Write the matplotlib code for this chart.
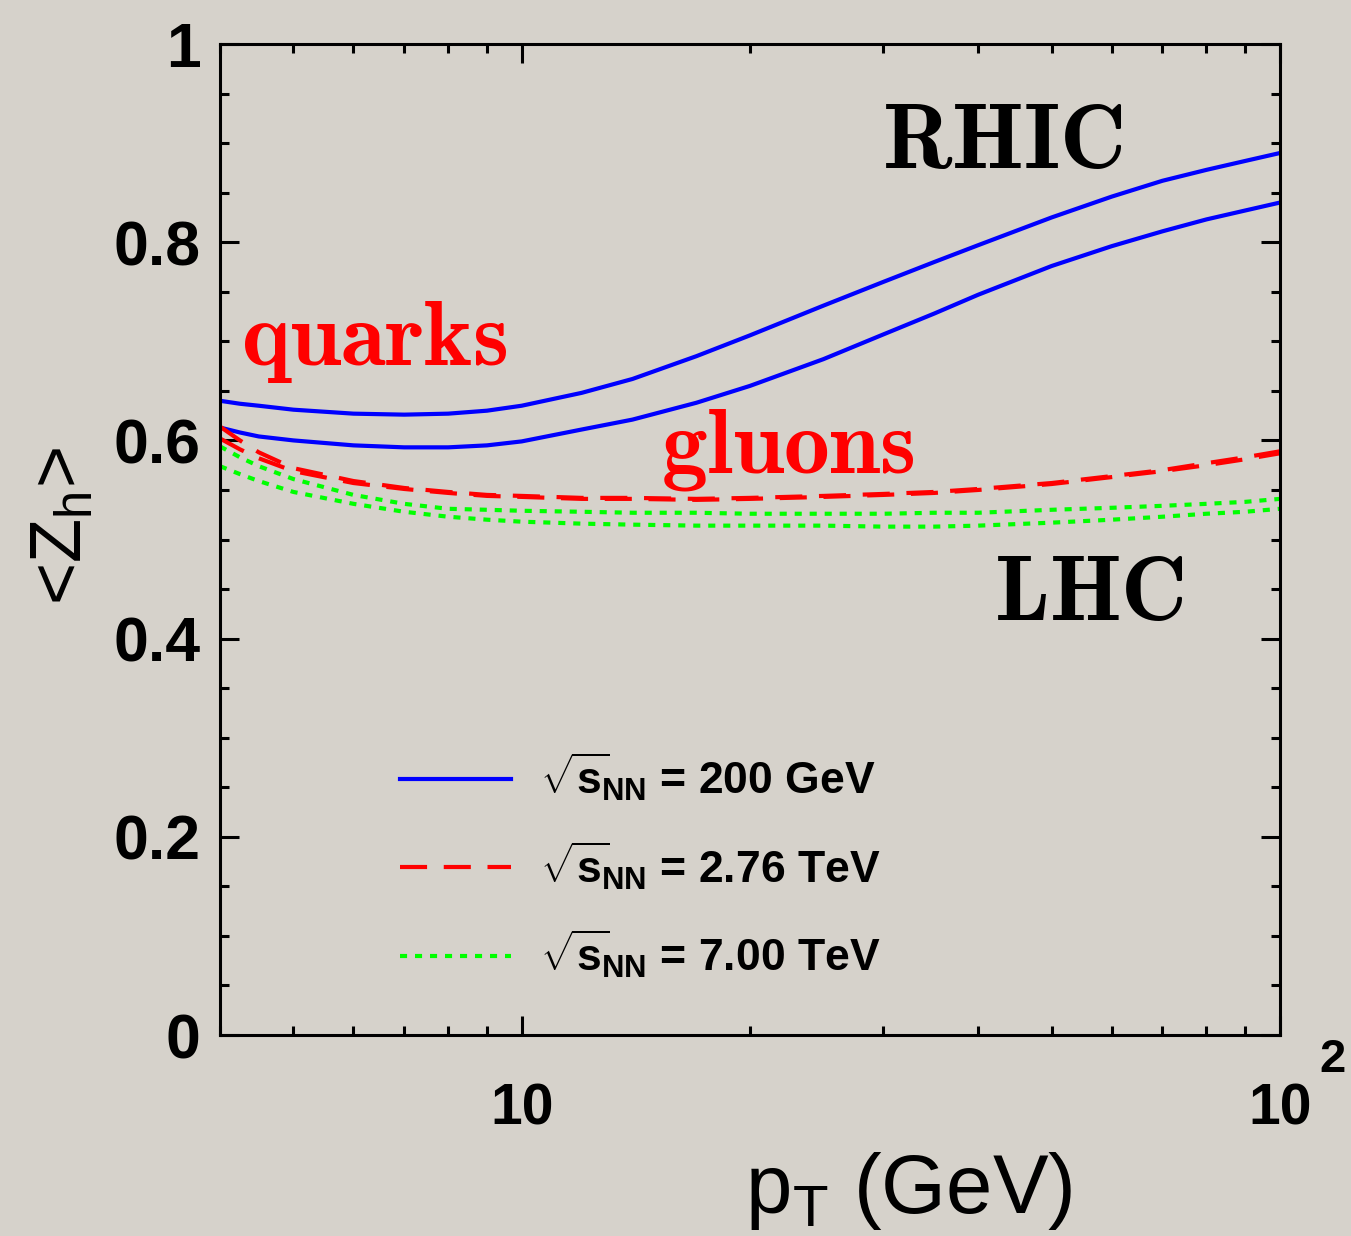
import matplotlib
matplotlib.use("Agg")
import matplotlib.pyplot as plt
from matplotlib.ticker import MultipleLocator, LogLocator, NullFormatter

# <Z_h> vs pT for quark / gluon jets at RHIC and LHC energies
pt = [4, 4.25, 4.5, 5, 6, 7, 8, 9, 10, 12, 14, 17, 20, 25, 30, 35, 40, 50, 60,
      70, 80, 90, 100]

rhic_quark = [0.640, 0.637, 0.635, 0.631, 0.627, 0.626, 0.627, 0.630, 0.635,
              0.648, 0.662, 0.685, 0.706, 0.736, 0.760, 0.780, 0.797, 0.825,
              0.846, 0.862, 0.873, 0.882, 0.890]
rhic_gluon = [0.613, 0.608, 0.604, 0.600, 0.595, 0.593, 0.593, 0.595, 0.599,
              0.611, 0.621, 0.638, 0.655, 0.682, 0.707, 0.728, 0.747, 0.776,
              0.796, 0.811, 0.823, 0.832, 0.840]
lhc276_a = [0.614, 0.600, 0.588, 0.572, 0.559, 0.552, 0.548, 0.545, 0.544,
            0.542, 0.542, 0.541, 0.542, 0.544, 0.546, 0.548, 0.551, 0.557,
            0.564, 0.570, 0.577, 0.583, 0.589]
lhc276_b = [0.602, 0.591, 0.582, 0.569, 0.557, 0.551, 0.547, 0.544, 0.543,
            0.541, 0.541, 0.540, 0.541, 0.543, 0.545, 0.547, 0.550, 0.556,
            0.563, 0.569, 0.575, 0.581, 0.587]
lhc700_a = [0.594, 0.583, 0.574, 0.561, 0.545, 0.536, 0.531, 0.530, 0.529,
            0.528, 0.527, 0.527, 0.526, 0.526, 0.526, 0.527, 0.527, 0.530,
            0.532, 0.534, 0.536, 0.538, 0.541]
lhc700_b = [0.574, 0.566, 0.559, 0.548, 0.536, 0.528, 0.523, 0.520, 0.518,
            0.516, 0.515, 0.514, 0.514, 0.514, 0.513, 0.513, 0.514, 0.517,
            0.520, 0.523, 0.526, 0.528, 0.531]

legend_labels = [
    r"$\sqrt{\mathbf{s}}\!{}_{\mathbf{NN}}$ = 200 GeV",
    r"$\sqrt{\mathbf{s}}\!{}_{\mathbf{NN}}$ = 2.76 TeV",
    r"$\sqrt{\mathbf{s}}\!{}_{\mathbf{NN}}$ = 7.00 TeV",
]

BG = "#d6d2cb"
plt.rcParams["mathtext.fontset"] = "custom"
plt.rcParams["mathtext.rm"] = "Liberation Sans"
plt.rcParams["mathtext.it"] = "Liberation Sans"
plt.rcParams["mathtext.bf"] = "Liberation Sans:bold"
plt.rcParams["font.family"] = "Liberation Sans"

fig = plt.figure(figsize=(13.51, 12.36), dpi=100, facecolor=BG)
ax = fig.add_axes([0.1628, 0.1626, 0.7846, 0.8018], facecolor=BG)

lw = 3.0
l1, = ax.plot(pt, rhic_quark, color="#0000ff", lw=lw)
ax.plot(pt, rhic_gluon, color="#0000ff", lw=lw)
l2, = ax.plot(pt, lhc276_a, color="#ff0000", lw=lw, dashes=(6.5, 4), dash_capstyle="butt")
ax.plot(pt, lhc276_b, color="#ff0000", lw=lw, dashes=(6.5, 4), dash_capstyle="butt")
l3, = ax.plot(pt, lhc700_a, color="#00ff00", lw=lw, dashes=(1.7, 1.9), dash_capstyle="butt")
ax.plot(pt, lhc700_b, color="#00ff00", lw=lw, dashes=(1.7, 1.9), dash_capstyle="butt")

ax.set_xscale("log")
ax.set_xlim(4, 100)
ax.set_ylim(0, 1)

# axis styling, ROOT-like ticks on all four sides
for sp in ax.spines.values():
    sp.set_linewidth(2.2)
ax.yaxis.set_major_locator(MultipleLocator(0.2))
ax.yaxis.set_minor_locator(MultipleLocator(0.05))
ax.xaxis.set_minor_locator(LogLocator(base=10, subs=range(2, 10), numticks=20))
ax.xaxis.set_minor_formatter(NullFormatter())
ax.set_xticks([10, 100])
ax.set_xticklabels(["10", "10"])
ax.set_yticks([0, 0.2, 0.4, 0.6, 0.8, 1.0])
ax.set_yticklabels(["0", "0.2", "0.4", "0.6", "0.8", "1"])
ax.tick_params(which="both", direction="in", top=True, right=True, width=2.2)
ax.tick_params(which="major", length=14)
ax.tick_params(which="minor", length=6.5)
ax.tick_params(axis="y", pad=14, labelsize=45)
ax.tick_params(axis="x", pad=34, labelsize=41)
for lab in ax.get_xticklabels() + ax.get_yticklabels():
    lab.set_fontweight("bold")
# exponent of the 10^2 label
ax.annotate("2", xy=(100, 0), xycoords=("data", "axes fraction"),
            xytext=(38, -18), textcoords="offset points",
            ha="center", va="center", fontsize=34, fontweight="bold")

ax.text(0.804, -0.180, r"p$_\mathrm{T}$ (GeV)", transform=ax.transAxes,
        ha="right", va="baseline", fontsize=60)
ax.text(-0.148, 0.513, r"<Z$_\mathrm{h}$>", transform=ax.transAxes,
        ha="center", va="center", rotation=90, fontsize=52)

# region labels
ax.text(4.27, 0.676, r"$\mathbf{quarks}$", color="#ff0000", fontsize=66,
        math_fontfamily="cm", ha="left", va="baseline")
ax.text(15.26, 0.568, r"$\mathbf{gluons}$", color="#ff0000", fontsize=66,
        math_fontfamily="cm", ha="left", va="baseline")
ax.text(29.9, 0.875, r"$\mathbf{RHIC}$", color="black", fontsize=66,
        math_fontfamily="cm", ha="left", va="baseline")
ax.text(42.0, 0.419, r"$\mathbf{LHC}$", color="black", fontsize=66,
        math_fontfamily="cm", ha="left", va="baseline")

leg = ax.legend([l1, l2, l3], legend_labels, loc="upper left",
                bbox_to_anchor=(0.1694, 0.287), frameon=False,
                prop={"family": "Liberation Sans", "weight": "bold", "size": 32},
                handlelength=2.5, handletextpad=0.66, labelspacing=0.8,
                borderpad=0, borderaxespad=0)

fig.savefig("out.png", dpi=100, facecolor=BG)
